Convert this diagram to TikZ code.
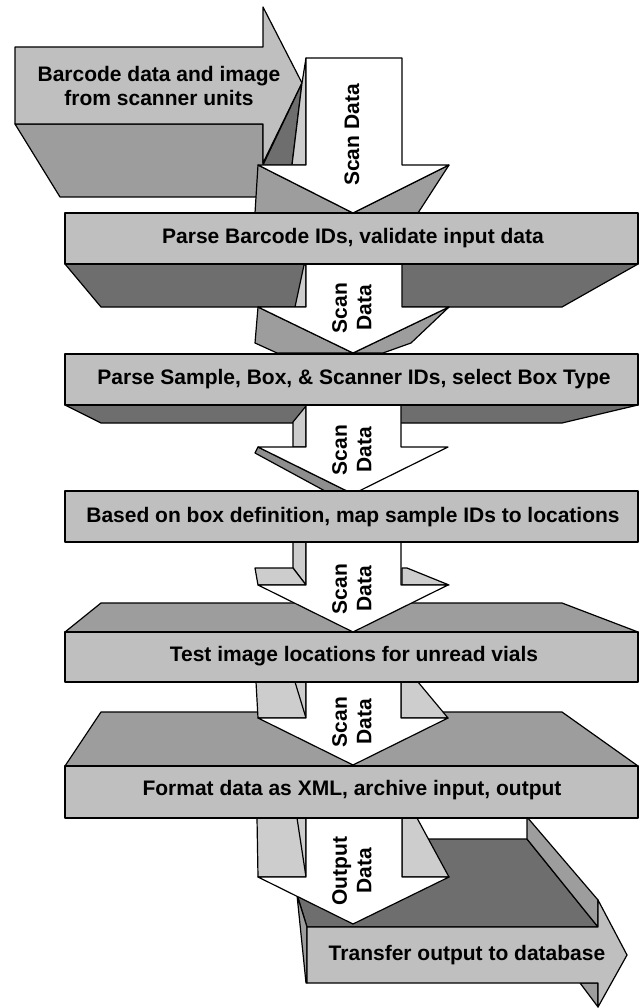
\documentclass[tikz,border=0pt]{standalone}
\usepackage{fontspec}
\setmainfont{Liberation Sans}
\definecolor{frontgray}{HTML}{BFBFBF}
\definecolor{darkgray}{HTML}{6E6E6E}
\definecolor{midgray}{HTML}{9D9D9D}
\definecolor{lightgray}{HTML}{CDCDCD}
\definecolor{stripgray}{HTML}{8E8E8E}
\tikzset{
  face/.style={draw=black, line width=1.2pt, line join=round},
  fface/.style={face, fill=frontgray},
  wface/.style={face, fill=white},
  dface/.style={face, fill=darkgray},
  mface/.style={face, fill=midgray},
  lface/.style={face, fill=lightgray},
  sface/.style={face, fill=stripgray},
  lbl/.style={font=\bfseries\fontsize{21}{24.5}\selectfont, align=center, inner sep=0pt},
}
\begin{document}
\begin{tikzpicture}[x=1pt,y=-1pt]
\useasboundingbox (0,0) rectangle (639,1008);
% ---------- top input arrow
\draw[mface] (15,124) -- (60,197) -- (263,197) -- (263,124) -- cycle;
\draw[fface] (15,47) -- (263,47) -- (263,7) -- (302,83) -- (263,163) -- (263,124) -- (15,124) -- cycle;
\node[lbl] (tin) at (159,86) {Barcode data and image\\from scanner units};
% ---------- scan data arrow 1
\draw[dface] (263,165) -- (302,83) -- (292,165) -- cycle;
\draw[lface] (306,58) -- (302,83) -- (292,165) -- (306,165) -- cycle;
\draw[mface] (258,165) -- (255,213) -- (353,213) -- cycle;
\draw[mface] (449,165) -- (418,213) -- (353,213) -- cycle;
\draw[wface] (306,58) -- (402,58) -- (402,165) -- (449,165) -- (353,213) -- (258,165) -- (306,165) -- cycle;
\node[lbl, rotate=90] (s1) at (352,135) {Scan Data};
% ---------- box 1 bottom face
\draw[dface] (65,264) -- (101,307) -- (562,307) -- (638,264) -- cycle;
% ---------- arrow 2
\draw[lface] (304,265) -- (295,307) -- (306,307) -- (306,265) -- cycle;
\draw[mface] (258,307) -- (255,343) -- (277,353) -- (353,353) -- cycle;
\draw[mface] (449,307) -- (411,343) -- (383,353) -- (353,353) -- cycle;
\draw[wface] (306,264) -- (402,264) -- (402,307) -- (449,307) -- (353,353) -- (258,307) -- (306,307) -- cycle;
\node[lbl, rotate=90] (s2) at (352,308) {Scan\\Data};
% ---------- box 1 front
\draw[fface] (65,213) rectangle (638,264);
\node[lbl] (b1) at (353,238.5) {Parse Barcode IDs, validate input data};
% ---------- box 2 bottom face
\draw[dface] (65,405) -- (101,423) -- (562,423) -- (638,405) -- cycle;
% ---------- arrow 3
\draw[lface] (306,406) -- (293,422) -- (293,447) -- (306,447) -- cycle;
\draw[sface] (258,447) -- (255,453) -- (325,491) -- (347,491) -- cycle;
\draw[wface] (306,405) -- (401,405) -- (401,447) -- (448,447) -- (353,494) -- (258,447) -- (306,447) -- cycle;
\node[lbl, rotate=90] (s3) at (352,450) {Scan\\Data};
% ---------- box 2 front
\draw[fface] (65,354) rectangle (638,405);
\node[lbl] (b2) at (354,379) {Parse Sample, Box, \& Scanner IDs, select Box Type};
% ---------- box 4 top face
\draw[mface] (65,632) -- (101,603) -- (562,603) -- (638,632) -- cycle;
% ---------- arrow 4
\draw[lface] (306,542) -- (306,585) -- (293,568) -- (293,542) -- cycle;
\draw[lface] (293,568) -- (306,585) -- (258,585) -- (255,568) -- cycle;
\draw[lface] (402,568) -- (407,568) -- (449,585) -- (402,585) -- cycle;
\draw[wface] (306,542) -- (401,542) -- (401,585) -- (448,585) -- (353,632) -- (258,585) -- (306,585) -- cycle;
\node[lbl, rotate=90] (s4) at (352,589) {Scan\\Data};
% ---------- box 3 front
\draw[fface] (65,491) rectangle (638,542);
\node[lbl] (b3) at (353,517) {Based on box definition, map sample IDs to locations};
% ---------- box 5 top face
\draw[mface] (65,766) -- (101,712) -- (562,712) -- (638,766) -- cycle;
% ---------- arrow 5
\draw[lface] (256,682) -- (258,718) -- (306,718) -- (306,682) -- cycle;
\draw[face] (295,682) -- (306,718);
\draw[lface] (401,682) -- (418,682) -- (448,718) -- (401,718) -- cycle;
\draw[wface] (306,682) -- (401,682) -- (401,718) -- (448,718) -- (353,765) -- (258,718) -- (306,718) -- cycle;
\node[lbl, rotate=90] (s5) at (352,722) {Scan\\Data};
% ---------- box 4 front
\draw[fface] (65,632) rectangle (638,682);
\node[lbl] (b4) at (354,656) {Test image locations for unread vials};
% ---------- transfer arrow back faces
\draw[dface] (280,839) -- (527,839) -- (598,927) -- (307,927) -- cycle;
\draw[mface] (297,895) -- (307,927) -- (307,983) -- (306,983) -- cycle;
\draw[mface] (527,817) -- (598,900) -- (598,927) -- (527,839) -- cycle;
% ---------- arrow 6 (output data)
\draw[lface] (257,818) -- (258,877) -- (306,877) -- (306,818) -- cycle;
\draw[face] (297,818) -- (306,877);
\draw[lface] (402,818) -- (417,818) -- (449,877) -- (402,877) -- cycle;
\draw[wface] (306,818) -- (402,818) -- (402,877) -- (449,877) -- (353,924) -- (258,877) -- (306,877) -- cycle;
\node[lbl, rotate=90] (s6) at (352,871) {Output\\Data};
% ---------- box 5 front
\draw[fface] (65,766) rectangle (638,818);
\node[lbl] (b5) at (352,790) {Format data as XML, archive input, output};
% ---------- transfer arrow front
\draw[mface] (580,983) -- (598,1007) -- (598,983) -- cycle;
\draw[fface] (307,927) -- (598,927) -- (598,900) -- (627,955) -- (598,1007) -- (598,983) -- (307,983) -- cycle;
\node[lbl] (tout) at (467,955) {Transfer output to database};
\end{tikzpicture}
\end{document}
